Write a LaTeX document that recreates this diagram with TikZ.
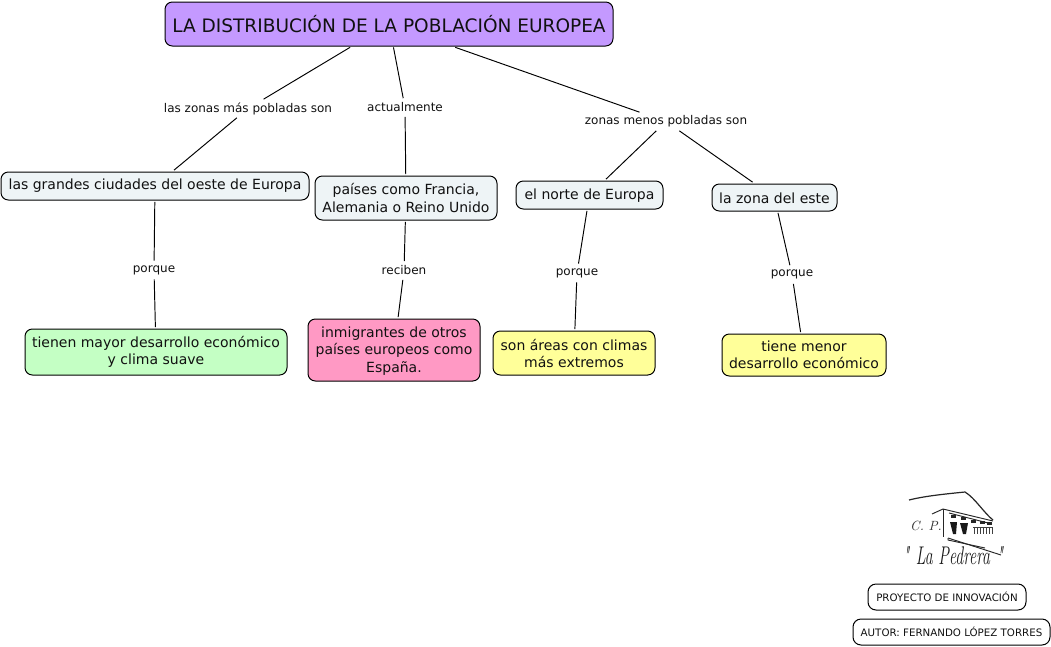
\documentclass[tikz,border=0pt]{standalone}
\usepackage{fontspec}
\setmainfont{DejaVu Sans}
\newfontfamily\logofont{Latin Modern Roman}
\definecolor{cpurple}{HTML}{C499FF}
\definecolor{cpale}{HTML}{EEF4F6}
\definecolor{cgreen}{HTML}{C4FFC4}
\definecolor{cpink}{HTML}{FF99C4}
\definecolor{cyellow}{HTML}{FFFF99}
\definecolor{ctext}{HTML}{111111}
\tikzset{
  box/.style={draw=black,line width=0.75pt,rounded corners=5.5pt,inner sep=0pt,outer sep=1.4pt,align=center,text=ctext,font=\fontsize{10.5pt}{13pt}\selectfont},
  link/.style={inner sep=0pt,outer sep=1.5pt,align=center,text=ctext,font=\fontsize{9pt}{11pt}\selectfont},
  conn/.style={draw=black,line width=0.72pt},
  smallbox/.style={draw=black,line width=0.75pt,rounded corners=6pt,fill=white,inner sep=0pt,outer sep=1pt,text=ctext,font=\fontsize{7.7pt}{9pt}\selectfont},
  logoline/.style={draw=black!85,line width=0.7pt}
}
\newcommand{\bx}[8]{\node[#1,fill=#2,minimum width=#5*0.75pt-#3*0.75pt,minimum height=#6*0.75pt-#4*0.75pt] (#7) at ({(#3+#5)/2},{(#4+#6)/2}) {#8};}
\newcommand{\dn}{\rule{0pt}{9.6pt}}
\begin{document}
\begin{tikzpicture}[x=0.75pt,y=-0.75pt]
\useasboundingbox (0,0) rectangle (1051,647);
\fill[white] (0,0) rectangle (1051,647);
\bx{box,outer sep=1pt,font=\fontsize{13.9pt}{16pt}\selectfont}{cpurple}{165}{2}{613}{46}{top}{LA DISTRIBUCIÓN DE LA POBLACIÓN EUROPEA}
\bx{box}{cpale}{1}{172}{309}{200}{ciudades}{las grandes ciudades del oeste de Europa}
\bx{box}{cpale}{315}{176}{497}{220}{paises}{países como Francia,\\Alemania o Reino Unido}
\bx{box}{cpale}{516}{181}{663}{209}{norte}{\dn el norte de Europa}
\bx{box}{cpale}{712}{184}{837}{211}{este}{\dn la zona del este}
\bx{box}{cgreen}{25}{329}{287}{375}{tienen}{tienen mayor desarrollo económico\\y clima suave}
\bx{box}{cpink}{308}{319}{480}{381}{inmig}{\dn inmigrantes de otros\\países europeos como\\España.}
\bx{box}{cyellow}{493}{331}{655}{375}{areas}{\dn son áreas con climas\\más extremos}
\bx{box}{cyellow}{722}{334}{886}{376}{menor}{tiene menor\\desarrollo económico}
\node[link,minimum width=126pt,minimum height=11pt] (l1) at (248,108.5) {las zonas más pobladas son};
\node[link,minimum width=56pt,minimum height=11pt] (l2) at (405,107.5) {actualmente};
\node[link,minimum width=122pt,minimum height=11pt] (l3) at (666,121.5) {zonas menos pobladas son};
\node[link,minimum width=32pt,minimum height=11pt] (l4) at (154,270) {porque};
\node[link,minimum width=33pt,minimum height=11pt] (l5) at (404,270.5) {reciben};
\node[link,minimum width=32pt,minimum height=11pt] (l6) at (577,273) {porque};
\node[link,minimum width=32pt,minimum height=11pt] (l7) at (792,274.5) {porque};
\draw[conn] (top) -- (l1);
\draw[conn] (l1) -- (ciudades);
\draw[conn] (top) -- (l2);
\draw[conn] (l2) -- (paises);
\draw[conn] (top) -- (l3);
\draw[conn] (l3) -- (norte);
\draw[conn] (l3) -- (este);
\draw[conn] (ciudades) -- (l4);
\draw[conn] (l4) -- (tienen);
\draw[conn] (paises) -- (l5);
\draw[conn] (l5) -- (inmig);
\draw[conn] (norte) -- (l6);
\draw[conn] (l6) -- (areas);
\draw[conn] (este) -- (l7);
\draw[conn] (l7) -- (menor);
\bx{smallbox}{white}{868}{584}{1026}{610}{proy}{PROYECTO DE INNOVACIÓN}
\bx{smallbox}{white}{853}{619}{1050}{645}{autor}{AUTOR: FERNANDO LÓPEZ TORRES}
% logo
\draw[logoline,line width=0.9pt] (909,500) .. controls (925,496) and (945,494) .. (965,492) .. controls (975,498) and (984,513) .. (993,520);
\draw[logoline] (932,514) -- (943,509) -- (993,521);
\draw[logoline] (949,513) -- (992,524);
\draw[logoline] (943,509) -- (943,537);
\foreach \bxa/\bya in {951/515,961/517,971/520,980/521,987/522}
  \fill[black!85] (\bxa,\bya) rectangle ++(4.5,3);
\fill[black!90] (950,522) -- (957,522) -- (956,534) -- (953,534) -- cycle;
\fill[black!90] (960,523) -- (968,523) -- (966,534) -- (963,534) -- cycle;
\draw[black!75,line width=0.5pt] (973,527) -- (992,527);
\foreach \bxc in {974,977,980,983,986,989,992}
  \draw[black!75,line width=0.6pt] (\bxc,527) -- (\bxc,534);
\draw[logoline] (948,538) -- (1001,555);
\draw[logoline] (948,538) -- (948,540) -- (985,548);
\node[font=\logofont\itshape\fontsize{10pt}{11pt}\selectfont,inner sep=0pt,text=black!80] (cp) at (926,526) {C. P.};
\node[font=\logofont\itshape\fontsize{12pt}{13pt}\selectfont,inner sep=0pt,text=black!90,transform shape,yscale=1.6,anchor=center] (lp) at (953,556) {\makebox[75pt]{"\hfill La Pedrera\hfill"}};
\end{tikzpicture}
\end{document}
